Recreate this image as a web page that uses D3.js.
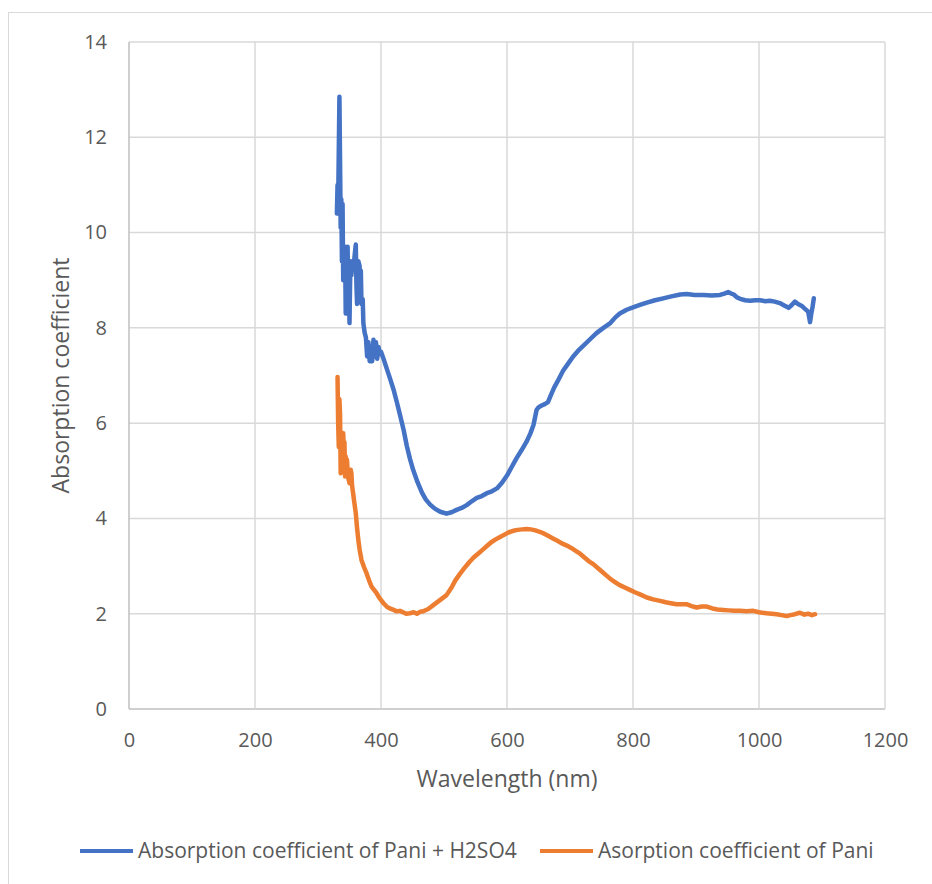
<!DOCTYPE html>
<html>
<head>
<meta charset="utf-8">
<script src="https://cdn.jsdelivr.net/npm/d3@7"></script>
<style>
  body { margin: 0; background: #ffffff; }
  text { font-family: "Open Sans", sans-serif; fill: #595959; }
</style>
</head>
<body>
<div class="content"></div>
<script>
// wavelength (nm) and values
var blueX = [330, 331, 332, 334, 335, 336, 337, 338, 339, 340, 341, 342, 343, 344, 345, 346, 347, 348, 349, 350,
    351, 352, 353, 354, 356, 358, 360, 361, 362, 364, 366, 367, 368, 369, 371, 372, 374, 376, 378, 380,
    382, 384, 386, 388, 390, 392, 394, 396, 398, 400, 404, 409, 414, 420, 425, 430, 436, 441, 446, 451,
    458, 465, 471, 478, 486, 494, 504, 512, 520, 528, 536, 544, 552, 560, 568, 576, 584, 592, 600, 607,
    615, 623, 631, 637, 642, 645, 647, 650, 655, 660, 665, 670, 675, 680, 689, 697, 705, 713, 721, 731,
    742, 753, 764, 772, 779, 790, 800, 811, 822, 835, 848, 861, 875, 885, 898, 912, 925, 938, 945, 951,
    956, 960, 965, 970, 978, 986, 994, 1002, 1010, 1017, 1025, 1033, 1040, 1047, 1052, 1057, 1062, 1068, 1073, 1078,
    1080, 1081, 1083, 1085, 1087];
var blueY = [10.4, 11.0, 10.6, 12.85, 11.5, 10.1, 10.7, 9.4, 10.6, 9.0, 9.5, 9.2, 9.7, 8.3, 9.3, 9.0, 9.7, 8.6, 9.4, 8.1,
    9.0, 9.4, 9.1, 9.3, 9.2, 9.5, 9.75, 8.9, 8.5, 9.4, 9.3, 8.8, 9.2, 8.5, 8.6, 8.1, 7.9, 7.8, 7.4, 7.7,
    7.3, 7.6, 7.3, 7.75, 7.4, 7.7, 7.35, 7.6, 7.45, 7.5, 7.35, 7.15, 6.95, 6.7, 6.45, 6.18, 5.85, 5.52, 5.25, 5.02,
    4.76, 4.54, 4.4, 4.29, 4.2, 4.14, 4.1, 4.13, 4.18, 4.22, 4.28, 4.36, 4.43, 4.47, 4.53, 4.57, 4.63, 4.75, 4.9, 5.07,
    5.26, 5.43, 5.61, 5.78, 5.96, 6.15, 6.28, 6.33, 6.37, 6.4, 6.44, 6.6, 6.75, 6.87, 7.1, 7.25, 7.4, 7.52, 7.62, 7.75,
    7.89, 8.0, 8.1, 8.22, 8.3, 8.38, 8.43, 8.48, 8.53, 8.58, 8.62, 8.66, 8.7, 8.71, 8.69, 8.69, 8.68, 8.69, 8.72, 8.75,
    8.72, 8.7, 8.64, 8.61, 8.58, 8.57, 8.58, 8.58, 8.56, 8.57, 8.55, 8.52, 8.47, 8.42, 8.48, 8.55, 8.5, 8.46, 8.4, 8.34,
    8.2, 8.12, 8.3, 8.44, 8.62];

var orangeX = [331, 332, 333, 334, 335, 336, 337, 338, 339, 340, 341, 342, 343, 344, 345, 346, 347, 348, 349, 350,
    351, 352, 353, 354, 355, 356, 358, 360, 362, 364, 366, 369, 373, 377, 381, 385, 389, 393, 398, 404,
    409, 414, 420, 425, 430, 435, 440, 446, 452, 457, 462, 467, 475, 483, 492, 504, 512, 518, 525, 532,
    540, 547, 555, 562, 568, 575, 582, 589, 596, 603, 610, 617, 624, 631, 638, 645, 652, 659, 666, 673,
    680, 688, 695, 702, 709, 716, 723, 730, 737, 744, 751, 758, 765, 772, 779, 787, 795, 803, 812, 822,
    832, 843, 852, 860, 869, 877, 885, 893, 901, 909, 917, 926, 934, 943, 952, 961, 970, 980, 991, 1000,
    1012, 1020, 1028, 1036, 1044, 1050, 1057, 1065, 1072, 1078, 1084, 1089];
var orangeY = [6.97, 6.0, 5.5, 6.5, 6.2, 4.95, 5.6, 5.8, 5.2, 5.79, 5.4, 5.6, 4.88, 5.3, 5.0, 5.23, 5.0, 4.85, 4.8, 4.74,
    4.9, 5.02, 4.95, 4.7, 4.6, 4.5, 4.3, 4.11, 3.8, 3.55, 3.35, 3.13, 2.98, 2.85, 2.7, 2.57, 2.5, 2.43, 2.32, 2.22,
    2.15, 2.11, 2.08, 2.05, 2.06, 2.03, 2.0, 2.01, 2.03, 2.0, 2.04, 2.05, 2.1, 2.18, 2.27, 2.39, 2.55, 2.7, 2.83, 2.95,
    3.08, 3.18, 3.27, 3.35, 3.42, 3.5, 3.56, 3.61, 3.66, 3.71, 3.74, 3.76, 3.77, 3.78, 3.77, 3.75, 3.72, 3.68, 3.63, 3.58,
    3.53, 3.47, 3.43, 3.38, 3.32, 3.26, 3.18, 3.1, 3.04, 2.96, 2.88, 2.8, 2.72, 2.66, 2.6, 2.55, 2.5, 2.45, 2.4, 2.34,
    2.3, 2.27, 2.24, 2.22, 2.2, 2.2, 2.2, 2.16, 2.13, 2.15, 2.15, 2.11, 2.09, 2.08, 2.07, 2.06, 2.06, 2.05, 2.06, 2.03,
    2.01, 2.0, 1.99, 1.97, 1.95, 1.97, 1.99, 2.02, 1.98, 2.0, 1.97, 1.99];

var xTicks = [0, 200, 400, 600, 800, 1000, 1200];
var yTicks = [0, 2, 4, 6, 8, 10, 12, 14];
var seriesNames = ["Absorption coefficient of Pani + H2SO4", "Asorption coefficient of Pani"];
var seriesColors = ["#4472c4", "#ed7d31"];

var W = 932, H = 884;
var margin = {top: 42, right: 47, bottom: 175, left: 129};

var svg = d3.select(".content")
    .append("svg")
    .attr("width", W)
    .attr("height", H);

// chart area border
svg.append("rect")
    .attr("x", 8.5).attr("y", 12.5)
    .attr("width", W).attr("height", H)
    .attr("fill", "none")
    .attr("stroke", "#d9d9d9")
    .attr("stroke-width", 1);

var x = d3.scaleLinear()
    .domain([0, 1200])
    .range([margin.left, W - margin.right]);
var y = d3.scaleLinear()
    .domain([0, 14])
    .range([H - margin.bottom, margin.top]);

// gridlines
svg.append("g")
    .selectAll("line")
    .data(yTicks)
    .enter().append("line")
    .attr("x1", x(0)).attr("x2", x(1200))
    .attr("y1", function(d) { return y(d); })
    .attr("y2", function(d) { return y(d); })
    .attr("stroke", function(d) { return d === 0 ? "#bfbfbf" : "#d9d9d9"; })
    .attr("stroke-width", 1.5);
svg.append("g")
    .selectAll("line")
    .data(xTicks)
    .enter().append("line")
    .attr("y1", y(0)).attr("y2", y(14))
    .attr("x1", function(d) { return x(d); })
    .attr("x2", function(d) { return x(d); })
    .attr("stroke", function(d) { return d === 0 ? "#bfbfbf" : "#d9d9d9"; })
    .attr("stroke-width", 1.5);

// axes, only labels
var xAxis = svg.append("g")
    .attr("transform", "translate(0," + y(0) + ")")
    .call(d3.axisBottom(x).tickValues(xTicks).tickFormat(d3.format("d")).tickSize(0).tickPadding(24));
var yAxis = svg.append("g")
    .attr("transform", "translate(" + x(0) + ",0)")
    .call(d3.axisLeft(y).tickValues(yTicks).tickFormat(d3.format("d")).tickSize(0).tickPadding(22));
[xAxis, yAxis].forEach(function(a) {
    a.select(".domain").remove();
    a.selectAll("text")
        .style("font-family", "'Open Sans', sans-serif")
        .style("font-size", "20px")
        .attr("fill", "#595959");
});

// lines
var line = d3.line()
    .x(function(d) { return x(d[0]); })
    .y(function(d) { return y(d[1]); });

var series = [d3.zip(blueX, blueY), d3.zip(orangeX, orangeY)];
series.forEach(function(s, i) {
    svg.append("path")
        .datum(s)
        .attr("fill", "none")
        .attr("stroke", seriesColors[i])
        .attr("stroke-width", 4.5)
        .attr("stroke-linejoin", "round")
        .attr("stroke-linecap", "round")
        .attr("d", line);
});

// axis titles
svg.append("text")
    .attr("x", x(600))
    .attr("y", 787)
    .attr("text-anchor", "middle")
    .style("font-size", "23px")
    .text("Wavelength (nm)");
svg.append("text")
    .attr("transform", "translate(69," + ((y(0) + y(14)) / 2) + ") rotate(-90)")
    .attr("text-anchor", "middle")
    .style("font-size", "23px")
    .text("Absorption coefficient");

// legend
var legendX = [80, 540];
seriesNames.forEach(function(name, i) {
    svg.append("line")
        .attr("x1", legendX[i]).attr("x2", legendX[i] + 53)
        .attr("y1", 851).attr("y2", 851)
        .attr("stroke", seriesColors[i])
        .attr("stroke-width", 4);
    svg.append("text")
        .attr("x", legendX[i] + 58)
        .attr("y", 851)
        .attr("dy", "0.35em")
        .style("font-size", "21px")
        .text(name);
});
</script>
</body>
</html>
